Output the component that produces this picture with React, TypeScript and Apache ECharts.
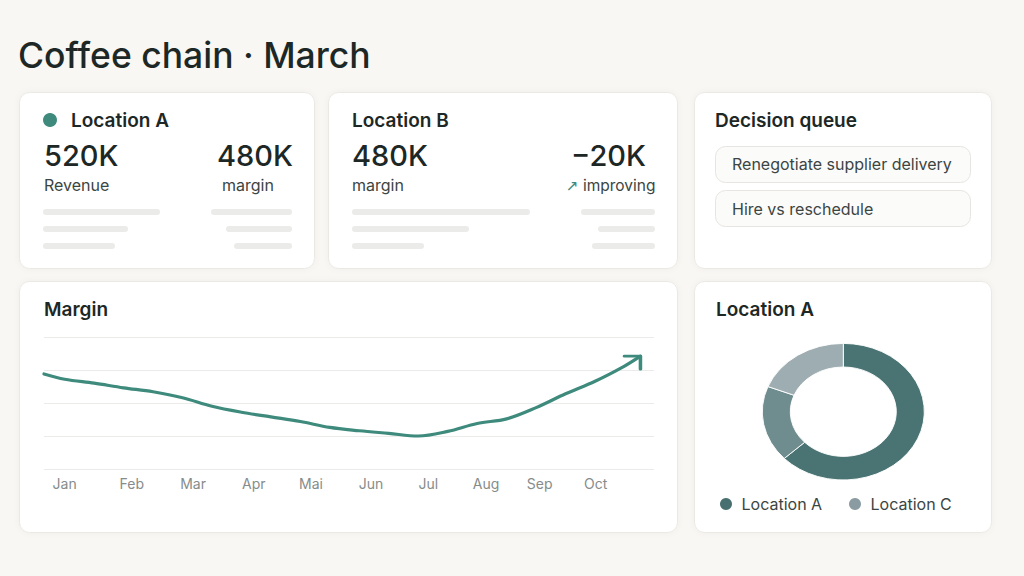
import React, { useEffect, useRef } from "react";
import * as echarts from "echarts";

// Month label positions on the continuous month axis
const months = ["Jan", "Feb", "Mar", "Apr", "Mai", "Jun", "Jul", "Aug", "Sep", "Oct"];
const monthTicks = [0, 1.14, 2.18, 3.21, 4.18, 5.2, 6.17, 7.15, 8.06, 9.01];
// Margin trend samples (x on the month axis, y = margin)
const marginX = [-0.35, 0, 0.5, 1, 1.5, 2, 2.5, 3, 3.5, 4, 4.5, 5, 5.5, 6, 6.5, 7, 7.5, 8, 8.5, 9, 9.5, 9.77];
const marginY = [444, 436, 430, 423, 417, 408, 395, 386, 379, 372, 363, 358, 354, 350, 357, 369, 376, 393, 414, 433, 456, 471];
const yTicks = { min: 300, max: 500, step: 50 };

// Location share donut
const shareNames = ["Location A", "Location B", "Location C"];
const shareValues = [63, 18, 19];
const shareColors = ["#4a7473", "#6f8d8f", "#9eadb1"];
const legendNames = ["Location A", "Location C"];
const legendColors = ["#476f6f", "#8a9ca1"];

// KPI texts
const kpiA = { title: "Location A", left: "520K", leftLabel: "Revenue", right: "480K", rightLabel: "margin" };
const kpiB = { title: "Location B", left: "480K", leftLabel: "margin", right: "\u221220K", rightLabel: "improving" };
const queueItems = ["Renegotiate supplier delivery", "Hire vs reschedule"];

const FONT = "Inter, 'Noto Sans', sans-serif";
const INK = "#1d2826";
const SUB = "#3b4543";
const TEAL = "#3e8a7c";
const H = 19; // card heading size
const B = 16; // body text size
const N = 29; // KPI number size

function card(x: number, y: number, w: number, h: number) {
  return {
    type: "rect",
    z: 0,
    shape: { x, y, width: w, height: h, r: 10 },
    style: {
      fill: "#ffffff",
      stroke: "#ebe9e4",
      lineWidth: 1,
      shadowBlur: 6,
      shadowColor: "rgba(0,0,0,0.035)",
    },
  };
}

function txt(x: number, y: number, text: string, size: number, weight: number, color: string, align = "left", family = FONT) {
  return {
    type: "text",
    z: 10,
    style: {
      text,
      x,
      y,
      fill: color,
      fontSize: size,
      fontWeight: weight,
      fontFamily: family,
      font: `${weight} ${size}px ${family}`,
      textAlign: align,
      align,
      textVerticalAlign: "middle",
      verticalAlign: "middle",
    },
  };
}

function bar(x1: number, x2: number, y: number) {
  return {
    type: "rect",
    z: 5,
    shape: { x: x1, y: y - 3, width: x2 - x1, height: 6, r: 3 },
    style: { fill: "#ebebea" },
  };
}

function pill(x: number, y: number, w: number, h: number) {
  return {
    type: "rect",
    z: 5,
    shape: { x, y, width: w, height: h, r: 10 },
    style: { fill: "#fbfbfa", stroke: "#e6e5e1", lineWidth: 1 },
  };
}

function monthName(v: number) {
  let best = 0;
  monthTicks.forEach((t, i) => {
    if (Math.abs(t - v) < Math.abs(monthTicks[best] - v)) best = i;
  });
  return months[best];
}

export default function App() {
  const ref = useRef<HTMLDivElement>(null);

  useEffect(() => {
    if (!ref.current) return;
    const chart = echarts.init(ref.current, null, { renderer: "svg" });

    const total = shareValues.reduce((a, b) => a + b, 0);
    const cum: number[] = [];
    shareValues.reduce((acc, v, i) => {
      cum[i] = acc;
      return acc + v;
    }, 0);

    const graphics: any[] = [
      txt(18, 55, "Coffee chain \u00b7 March", 35.5, 500, INK),

      // KPI card A
      card(19.5, 92.5, 295, 176),
      { type: "circle", z: 10, shape: { cx: 50, cy: 120, r: 7 }, style: { fill: TEAL } },
      txt(71, 120, kpiA.title, H, 600, INK),
      txt(44, 155, kpiA.left, N, 500, INK),
      txt(293, 155, kpiA.right, N, 500, INK, "right"),
      txt(44, 185, kpiA.leftLabel, B, 400, SUB),
      txt(222, 185, kpiA.rightLabel, B, 400, SUB),
      bar(43, 160, 212),
      bar(43, 128, 229),
      bar(43, 115, 246),
      bar(211, 292, 212),
      bar(226, 292, 229),
      bar(234, 292, 246),

      // KPI card B
      card(328.5, 92.5, 349, 176),
      txt(352, 120.5, kpiB.title, H, 600, INK),
      txt(352, 155, kpiB.left, N, 500, INK),
      txt(646, 155, kpiB.right, N, 500, INK, "right"),
      txt(352, 185, kpiB.leftLabel, B, 400, SUB),
      txt(566, 185.5, "\u2197", 15, 400, TEAL, "left", "'DejaVu Sans', sans-serif"),
      txt(655.5, 185.5, kpiB.rightLabel, 15.5, 400, SUB, "right"),
      bar(352, 530, 212),
      bar(352, 469, 229),
      bar(352, 424, 246),
      bar(581, 655, 212),
      bar(598, 655, 229),
      bar(592, 655, 246),

      // Decision queue
      card(694.5, 92.5, 297, 176),
      txt(715, 120, "Decision queue", H, 600, INK),
      pill(715.5, 146.5, 255, 36),
      txt(732, 164, queueItems[0], B, 400, SUB),
      pill(715.5, 190.5, 255, 36),
      txt(732, 208.5, queueItems[1], B, 400, SUB),

      // Margin chart card
      card(19.5, 281.5, 658, 251),
      txt(44, 309, "Margin", H, 600, INK),

      // Donut card
      card(694.5, 281.5, 297, 251),
      txt(716, 309, "Location A", H, 600, INK),
    ];

    legendNames.forEach((name, i) => {
      const x0 = i === 0 ? 726 : 855;
      graphics.push({ type: "circle", z: 10, shape: { cx: x0, cy: 504, r: 6 }, style: { fill: legendColors[i] } });
      graphics.push(txt(x0 + 15.5, 504, name, B, 400, SUB));
    });

    const lineData: any[] = marginX.map((x, i) => [x, marginY[i]]);
    const last = lineData.length - 1;
    lineData[last] = {
      value: lineData[last],
      symbol: "path://M0,0L16,0L16,13",
      symbolSize: [16, 13],
      symbolOffset: [-8, 6.5],
      itemStyle: { color: "transparent", borderColor: TEAL, borderWidth: 3.2, borderCap: "round", borderJoin: "round" },
    };

    chart.setOption({
      animation: false,
      backgroundColor: "#f8f7f3",
      textStyle: { fontFamily: FONT },
      graphic: { elements: graphics },
      grid: [{ left: 44, top: 337, width: 610, height: 132 }],
      xAxis: [
        {
          type: "value",
          min: -0.35,
          max: 10,
          z: 2,
          axisLine: { show: false },
          axisTick: { show: false },
          splitLine: { show: false },
          axisLabel: {
            customValues: monthTicks,
            formatter: (v: number) => monthName(v),
            color: "#868c8b",
            fontSize: 14,
            margin: 7,
            fontFamily: FONT,
          },
        },
      ],
      yAxis: [
        {
          type: "value",
          min: yTicks.min,
          max: yTicks.max,
          interval: yTicks.step,
          z: 2,
          axisLine: { show: false },
          axisTick: { show: false },
          axisLabel: { show: false },
          splitLine: { lineStyle: { color: "#ebebea", width: 1 } },
        },
      ],
      series: [
        {
          type: "line",
          name: "Margin",
          z: 4,
          data: lineData,
          smooth: 0.35,
          symbol: "none",
          showSymbol: true,
          lineStyle: { color: TEAL, width: 3.2, cap: "round" },
          itemStyle: { color: TEAL },
        },
        {
          type: "custom",
          name: "Share",
          coordinateSystem: "none",
          z: 4,
          data: shareValues.map((v, i) => ({ name: shareNames[i], value: v })),
          renderItem: (params: any, api: any) => {
            const i = params.dataIndex;
            const start = -Math.PI / 2 + (2 * Math.PI * cum[i]) / total;
            const end = start + (2 * Math.PI * api.value(0)) / total;
            return {
              type: "sector",
              x: 843.3,
              y: 411.7,
              scaleY: 0.843,
              shape: { cx: 0, cy: 0, r: 81, r0: 53, startAngle: start, endAngle: end, clockwise: true },
              style: { fill: shareColors[i], stroke: "#ffffff", lineWidth: 1 },
            };
          },
        },
      ],
    });

    return () => chart.dispose();
  }, []);

  return (
    <div
      ref={ref}
      style={{ position: "absolute", left: 0, top: 0, width: 1024, height: 576 }}
    />
  );
}
